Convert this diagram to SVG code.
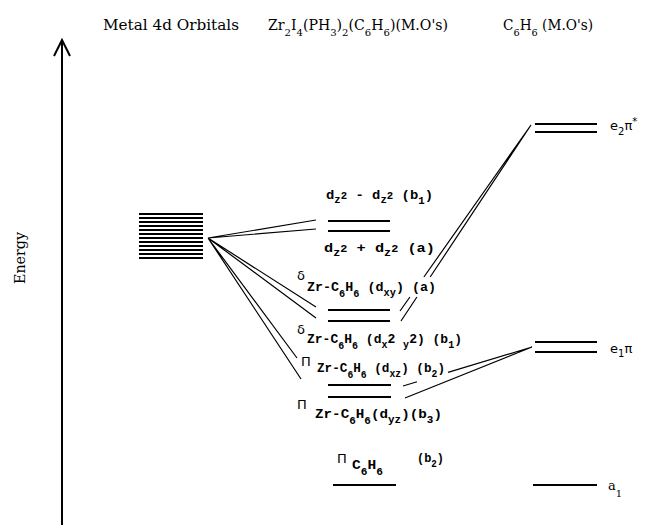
<svg xmlns="http://www.w3.org/2000/svg" width="647" height="525" viewBox="0 0 647 525">
<style>
.hd{font-family:"DejaVu Serif","Liberation Serif",serif;font-size:14px;fill:#000}
.lb{font-family:"Liberation Mono","DejaVu Sans Mono",monospace;font-size:13px;font-weight:bold;fill:#000}
.rl{font-family:"DejaVu Serif","Liberation Serif",serif;font-size:13px;fill:#000}
.sb{font-size:10px}
.gk{font-family:"DejaVu Sans","Liberation Sans",sans-serif;font-size:13px;fill:#000}
.lv{stroke:#000;stroke-width:1.8;fill:none}
.cn{stroke:#000;stroke-width:1.2;fill:none}
</style>
<rect width="647" height="525" fill="#fff"/>

<g id="axis">
<line x1="62" y1="40" x2="62" y2="525" stroke="#000" stroke-width="2"/>
<polyline points="54,56 62,40 70,56" fill="none" stroke="#000" stroke-width="2"/>
<text class="hd" transform="translate(25,258) rotate(-90)" text-anchor="middle" font-size="15" textLength="52" lengthAdjust="spacingAndGlyphs">Energy</text>
</g>

<g id="headers">
<text class="hd" x="103" y="30" textLength="136" lengthAdjust="spacingAndGlyphs">Metal 4d Orbitals</text>
<text class="hd" x="268" y="30" textLength="180" lengthAdjust="spacingAndGlyphs">Zr<tspan class="sb" dy="6">2</tspan><tspan dy="-6">I</tspan><tspan class="sb" dy="6">4</tspan><tspan dy="-6">(PH</tspan><tspan class="sb" dy="6">3</tspan><tspan dy="-6">)</tspan><tspan class="sb" dy="6">2</tspan><tspan dy="-6">(C</tspan><tspan class="sb" dy="6">6</tspan><tspan dy="-6">H</tspan><tspan class="sb" dy="6">6</tspan><tspan dy="-6">)(M.O's)</tspan></text>
<text class="hd" x="503" y="30" textLength="90" lengthAdjust="spacingAndGlyphs">C<tspan class="sb" dy="6">6</tspan><tspan dy="-6">H</tspan><tspan class="sb" dy="6">6</tspan><tspan dy="-6"> (M.O's)</tspan></text>
</g>

<g id="metal-4d">
<path class="lv" stroke-width="1.6" d="M139,214H203M139,218H203M139,222H203M139,226H203M139,230H203M139,234H203M139,238H203M139,242H203M139,246H203M139,250H203M139,254H203M139,258H203"/>
</g>

<g id="dz2-levels">
<path class="lv" d="M328,221H390M328,231H390"/>
<text class="lb" x="326" y="199" textLength="107" lengthAdjust="spacingAndGlyphs">d<tspan class="sb" dy="4">z</tspan><tspan class="sb" dy="-4">2</tspan> - d<tspan class="sb" dy="4">z</tspan><tspan class="sb" dy="-4">2</tspan> (b<tspan class="sb" dy="5">1</tspan><tspan dy="-5">)</tspan></text>
<text class="lb" x="324" y="252" textLength="111" lengthAdjust="spacingAndGlyphs">d<tspan class="sb" dy="4">z</tspan><tspan class="sb" dy="-4">2</tspan> + d<tspan class="sb" dy="4">z</tspan><tspan class="sb" dy="-4">2</tspan> (a)</text>
</g>

<g id="delta-levels">
<path class="lv" d="M328,310H390M328,321H390"/>
<text class="gk" x="297" y="280">δ</text>
<text class="lb" x="307" y="291" textLength="129" lengthAdjust="spacingAndGlyphs">Zr-C<tspan class="sb" dy="6">6</tspan><tspan dy="-6">H</tspan><tspan class="sb" dy="6">6</tspan><tspan dy="-6"> (d</tspan><tspan class="sb" dy="5">xy</tspan><tspan dy="-5">) (a)</tspan></text>
<text class="gk" x="297" y="334">δ</text>
<text class="lb" x="307" y="343" textLength="155" lengthAdjust="spacingAndGlyphs">Zr-C<tspan class="sb" dy="6">6</tspan><tspan dy="-6">H</tspan><tspan class="sb" dy="6">6</tspan><tspan dy="-6"> (d</tspan><tspan class="sb" dy="5">x</tspan><tspan dy="-5">2 </tspan><tspan class="sb" dy="5">y</tspan><tspan dy="-5">2) (b</tspan><tspan class="sb" dy="5">1</tspan><tspan dy="-5">)</tspan></text>
</g>

<g id="pi-levels">
<path class="lv" d="M328,385H391M328,397H391"/>
<text class="gk" x="301" y="366">Π</text>
<text class="lb" x="317" y="372" textLength="128" lengthAdjust="spacingAndGlyphs">Zr-C<tspan class="sb" dy="6">6</tspan><tspan dy="-6">H</tspan><tspan class="sb" dy="6">6</tspan><tspan dy="-6"> (d</tspan><tspan class="sb" dy="5">xz</tspan><tspan dy="-5">) (b</tspan><tspan class="sb" dy="5">2</tspan><tspan dy="-5">)</tspan></text>
<text class="gk" x="297" y="409">Π</text>
<text class="lb" x="315" y="418" textLength="127" lengthAdjust="spacingAndGlyphs">Zr-C<tspan class="sb" dy="6">6</tspan><tspan dy="-6">H</tspan><tspan class="sb" dy="6">6</tspan><tspan dy="-6">(d</tspan><tspan class="sb" dy="5">yz</tspan><tspan dy="-5">)(b</tspan><tspan class="sb" dy="5">3</tspan><tspan dy="-5">)</tspan></text>
</g>

<g id="pi-c6h6-level">
<path class="lv" d="M333,485H396"/>
<text class="gk" x="337" y="463">Π</text>
<text class="lb" x="352" y="469" textLength="31" lengthAdjust="spacingAndGlyphs">C<tspan class="sb" dy="6">6</tspan><tspan dy="-6">H</tspan><tspan class="sb" dy="6">6</tspan></text>
<text class="lb" x="417" y="462" textLength="27" lengthAdjust="spacingAndGlyphs">(b<tspan class="sb" dy="5">2</tspan><tspan dy="-5">)</tspan></text>
</g>

<g id="e2pi-star">
<path class="lv" d="M535,124H597M535,132H597"/>
<text class="gk" x="610" y="130">e<tspan class="sb" dy="5">2</tspan><tspan dy="-5">π</tspan><tspan class="sb" dy="-5">*</tspan></text>
</g>

<g id="e1pi">
<path class="lv" d="M535,342H597M535,352H597"/>
<text class="gk" x="610" y="353">e<tspan class="sb" dy="4">1</tspan><tspan dy="-4">π</tspan></text>
</g>

<g id="a1">
<path class="lv" d="M533,485H597"/>
<text class="rl" x="608" y="490">a<tspan class="sb" dy="7">1</tspan></text>
</g>

<g id="connectors">
<path class="cn" d="M208,238L316,220M208,238L316,229M208,238L316,307M208,238L316,318M208,238L297,358M208,238L301,379"/>
<path class="cn" d="M531,125L423.9,277M409.9,297L400,311M531,125L430.2,277M416.9,297L401,321"/>
<path class="cn" d="M532,347L448,372.4M417,381.8L403,386M532,347L405,398"/>
</g>
</svg>
